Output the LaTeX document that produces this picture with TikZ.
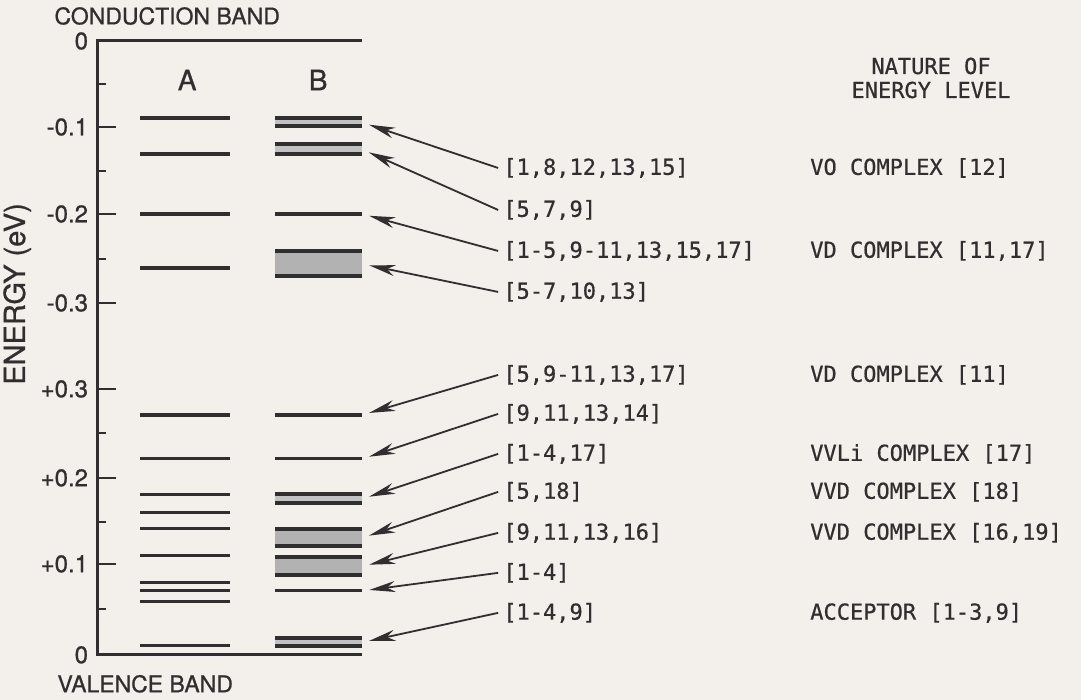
\documentclass[tikz,border=0pt]{standalone}
\usepackage{fontspec}
\setmainfont{TeX Gyre Heros}[FakeBold=0.8]
\newfontfamily\monofont{DejaVu Sans Mono}[FakeBold=0.6]
\usetikzlibrary{arrows.meta}
\definecolor{ink}{RGB}{48,46,46}
\definecolor{paper}{RGB}{243,239,235}
\tikzset{
  lvl/.style={ink, line width=3.2pt},
  axis/.style={ink, line width=3pt},
  band/.style={rectangle, inner sep=0pt, minimum width=87pt, fill=black!24,
    path picture={\draw[ink, line width=7pt]
      (path picture bounding box.north west) -- (path picture bounding box.north east)
      (path picture bounding box.south west) -- (path picture bounding box.south east);}},
  bline/.style={rectangle, inner sep=0pt, minimum width=87pt, minimum height=3.2pt, fill=ink},
  refs/.style={font=\fontsize{22}{24}\monofont, text=ink, anchor=west, inner sep=5pt},
  nature/.style={font=\fontsize{22}{24}\monofont, text=ink, anchor=west, inner sep=0pt},
  arr/.style={ink, line width=1.8pt, shorten >=7pt, -{Stealth[length=26pt, width=11pt, inset=8pt]}},
}
\begin{document}
\begin{tikzpicture}[x=1pt, y=-1pt, every node/.style={text=ink, font=\fontsize{23}{26}\selectfont}]
    \fill[paper] (0,0) rectangle (1081,700);
    \draw[axis] (362,41) -- (97,41) -- (97,655) -- (362,655);
    \foreach \y in {127,214,303,389,478,564}
        \draw[axis, line width=2.5pt] (97,\y) -- (116,\y);
    \foreach \y in {84,171,259,433,522,609}
        \draw[axis, line width=2.5pt] (97,\y) -- (106,\y);
    \foreach \y/\t in {41/0, 127/-0.1, 214/-0.2, 303/-0.3, 389/+0.3, 478/+0.2, 564/+0.1, 655/0}
        \node[anchor=east, inner sep=0pt, font=\fontsize{24}{26}\selectfont] (tick\y) at (88,\y) {\t};
    \node (cb) at (167,16) {CONDUCTION BAND};
    \node (vb) at (145,684) {VALENCE BAND};
    \node[rotate=90, font=\fontsize{29}{31}\selectfont] (ylab) at (17,294) {ENERGY (eV)};
    \node[font=\fontsize{28}{30}\selectfont] (colA) at (187,80) {A};
    \node[font=\fontsize{28}{30}\selectfont] (colB) at (318,80) {B};
    \foreach \y in {118,154,214,268,415,459,495,513,529,556,583,591,602,646}
        \draw[lvl] (140,\y) -- (230,\y);
    \node[band, minimum height=11pt] (b1) at (318.5,122.5) {};
    \node[band, minimum height=13pt] (b2) at (318.5,149.5) {};
    \node[bline] (b3) at (318.5,214) {};
    \node[band, minimum height=28pt, fill=black!30] (b4) at (318.5,264) {};
    \node[bline] (b5) at (318.5,415) {};
    \node[bline] (b6) at (318.5,459) {};
    \node[band, minimum height=12pt] (b7) at (318.5,499) {};
    \node[band, minimum height=20pt, fill=black!30] (b8) at (318.5,538) {};
    \node[band, minimum height=21pt, fill=black!30] (b9) at (318.5,566.5) {};
    \node[bline] (b10) at (318.5,591) {};
    \node[band, minimum height=11pt] (b11) at (318.5,642.5) {};
    \node[refs] (l1) at (498,168) {[1,8,12,13,15]};
    \node[refs] (l2) at (498,210) {[5,7,9]};
    \node[refs] (l3) at (498,251) {[1-5,9-11,13,15,17]};
    \node[refs] (l4) at (498,292) {[5-7,10,13]};
    \node[refs] (l5) at (498,375) {[5,9-11,13,17]};
    \node[refs] (l6) at (498,414) {[9,11,13,14]};
    \node[refs] (l7) at (498,454) {[1-4,17]};
    \node[refs] (l8) at (498,492) {[5,18]};
    \node[refs] (l9) at (498,533) {[9,11,13,16]};
    \node[refs] (l10) at (498,573) {[1-4]};
    \node[refs] (l11) at (498,613) {[1-4,9]};
    \foreach \from/\to in {l1/b1, l2/b2, l3/b3, l4/b4, l5/b5, l6/b6, l7/b7, l8/b8, l9/b9, l10/b10, l11/b11}
        \draw[arr] (\from.west) -- (\to.east);
    \node[font=\fontsize{22}{24}\monofont, align=center] (head) at (931,78) {NATURE OF\\ENERGY LEVEL};
    \node[nature] (n1) at (810,168) {VO COMPLEX [12]};
    \node[nature] (n3) at (810,251) {VD COMPLEX [11,17]};
    \node[nature] (n5) at (810,375) {VD COMPLEX [11]};
    \node[nature] (n7) at (810,454) {VVLi COMPLEX [17]};
    \node[nature] (n8) at (810,492) {VVD COMPLEX [18]};
    \node[nature] (n9) at (810,533) {VVD COMPLEX [16,19]};
    \node[nature] (n11) at (810,613) {ACCEPTOR [1-3,9]};
\end{tikzpicture}
\end{document}
